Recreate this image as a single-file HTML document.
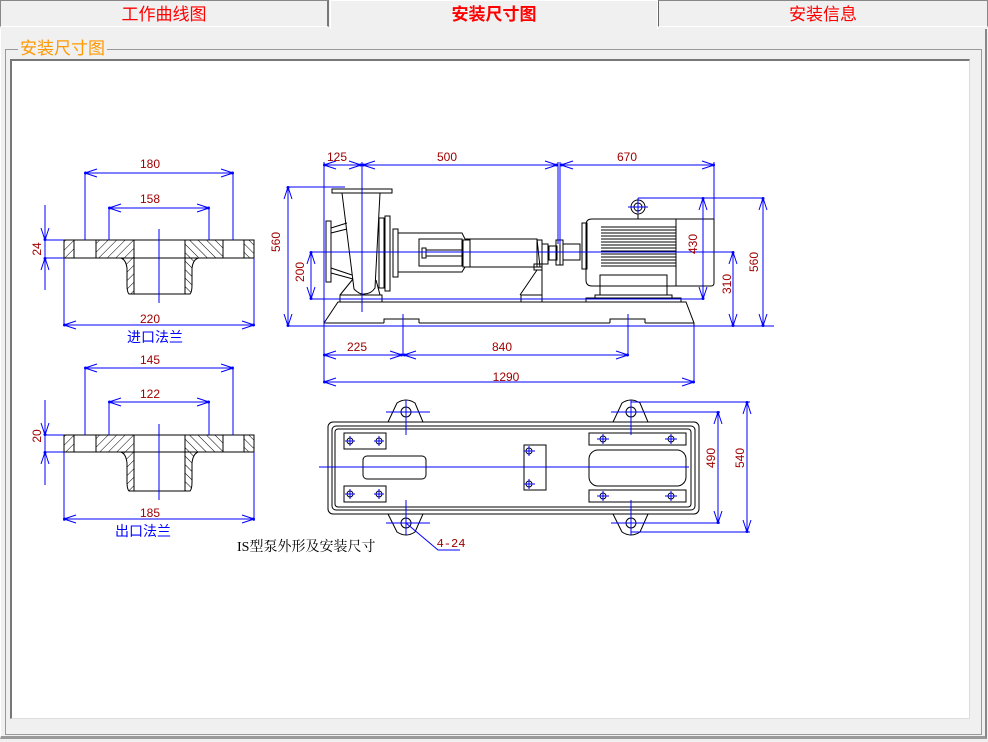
<!DOCTYPE html>
<html><head><meta charset="utf-8"><style>
body{margin:0;width:988px;height:742px;background:#f0f0f0;overflow:hidden;font-family:"Liberation Sans","Noto Sans CJK SC",sans-serif;position:relative}
.tab{position:absolute;top:0;height:27px;text-align:center;font-size:17px;line-height:28px;color:#f00;border:1px solid #888;border-bottom:none;box-sizing:border-box;background:#f0f0f0}
</style></head><body>
<div class="tab" style="left:0;width:329px;border-right:2px solid #777;border-bottom:1px solid #fff">工作曲线图</div>
<div class="tab" style="left:330px;width:328px;height:29px;font-weight:bold;border-color:#fff">安装尺寸图</div>
<div class="tab" style="left:658px;width:330px;border-left:1px solid #666;border-bottom:1px solid #fff">安装信息</div>
<div style="position:absolute;left:0;top:29px;width:987px;height:710px;border-left:1px solid #fff;border-right:2px solid #888;border-bottom:3px solid #999;box-sizing:border-box"></div>
<div style="position:absolute;left:5px;top:49px;width:977px;height:686px;border:1px solid #999;box-sizing:border-box"></div>
<div style="position:absolute;left:18px;top:38px;background:#f0f0f0;color:#f90;font-size:17px;padding:0 2px;line-height:22px">安装尺寸图</div>
<div style="position:absolute;left:10px;top:59px;width:960px;height:660px;background:#fff;border-top:2px solid #777;border-left:2px solid #777;border-right:1px solid #ddd;border-bottom:1px solid #ddd;box-sizing:border-box"></div>
<svg width="988" height="742" style="position:absolute;left:0;top:0" font-family="Liberation Sans, sans-serif">
<defs>
<marker id="a" markerUnits="userSpaceOnUse" markerWidth="14" markerHeight="12" refX="13" refY="5" orient="auto-start-reverse" viewBox="0 0 14 10"><path d="M1,1 L13,5 L1,9" fill="none" stroke="#00f" stroke-width="1"/><circle cx="12.5" cy="5" r="1.5" fill="#00f"/></marker>
<pattern id="h" width="6" height="6" patternUnits="userSpaceOnUse" patternTransform="rotate(45)"><line x1="0" y1="0" x2="0" y2="6" stroke="#000" stroke-width="1"/></pattern>
<pattern id="h2" width="6" height="6" patternUnits="userSpaceOnUse" patternTransform="rotate(-45)"><line x1="0" y1="0" x2="0" y2="6" stroke="#000" stroke-width="1"/></pattern>
</defs>
<g>
<g fill="none" stroke="#000" stroke-width="1">
<rect x="64" y="240" width="190" height="18"/>
<line x1="74" y1="240" x2="74" y2="258"/><line x1="96" y1="240" x2="96" y2="258"/>
<line x1="223" y1="240" x2="223" y2="258"/><line x1="244" y1="240" x2="244" y2="258"/>
<path d="M64,258 L74,258 L74,240 L64,240Z" fill="url(#h)"/>
<path d="M244,258 L254,258 L254,240 L244,240Z" fill="url(#h2)"/>
<path d="M96,240 L134,240 L134,294 L129,294 Q127,292 127,285 L127,268 Q126,260 121,258 L96,258Z" fill="url(#h)"/>
<path d="M223,240 L185,240 L185,294 L190,294 Q192,292 192,285 L192,268 Q193,260 198,258 L223,258Z" fill="url(#h2)"/>
<line x1="134" y1="294" x2="185" y2="294"/>
</g>
<g stroke="#00f" fill="none">
<line x1="159" y1="229" x2="159" y2="303"/>
<line x1="85" y1="173" x2="85" y2="240"/><line x1="233" y1="173" x2="233" y2="240"/>
<line x1="85" y1="173" x2="233" y2="173" marker-start="url(#a)" marker-end="url(#a)"/>
<line x1="109" y1="208" x2="109" y2="240"/><line x1="209" y1="208" x2="209" y2="240"/>
<line x1="109" y1="208" x2="209" y2="208" marker-start="url(#a)" marker-end="url(#a)"/>
<line x1="64" y1="258" x2="64" y2="326"/><line x1="254" y1="258" x2="254" y2="326"/>
<line x1="64" y1="325" x2="254" y2="325" marker-start="url(#a)" marker-end="url(#a)"/>
<line x1="45" y1="240" x2="64" y2="240"/><line x1="45" y1="258" x2="64" y2="258"/>
<line x1="45" y1="205" x2="45" y2="290"/>
<line x1="45" y1="222" x2="45" y2="240" marker-end="url(#a)"/><line x1="45" y1="276" x2="45" y2="258" marker-end="url(#a)"/>
</g>
</g>
<g font-size="12" fill="#a00000" text-anchor="middle">
<text x="150" y="168">180</text><text x="150" y="203">158</text><text x="150" y="323">220</text>
<text transform="translate(41,249) rotate(-90)">24</text>
<text x="150" y="364">145</text><text x="150" y="398">122</text><text x="150" y="517">185</text>
<text transform="translate(41,436) rotate(-90)">20</text>
</g>
<g font-size="14" fill="#00f" text-anchor="middle" font-family="Liberation Sans, Noto Sans CJK SC, sans-serif">
<text x="155" y="342">进口法兰</text><text x="143" y="536">出口法兰</text>
</g>
<g transform="translate(0,195)">
<g fill="none" stroke="#000" stroke-width="1">
<rect x="64" y="240" width="190" height="17"/>
<line x1="74" y1="240" x2="74" y2="257"/><line x1="96" y1="240" x2="96" y2="257"/>
<line x1="223" y1="240" x2="223" y2="257"/><line x1="244" y1="240" x2="244" y2="257"/>
<path d="M64,257 L74,257 L74,240 L64,240Z" fill="url(#h)"/>
<path d="M244,257 L254,257 L254,240 L244,240Z" fill="url(#h2)"/>
<path d="M96,240 L134,240 L134,296 L129,296 Q127,294 127,287 L127,268 Q126,259 121,257 L96,257Z" fill="url(#h)"/>
<path d="M223,240 L185,240 L185,296 L190,296 Q192,294 192,287 L192,268 Q193,259 198,257 L223,257Z" fill="url(#h2)"/>
<line x1="134" y1="296" x2="185" y2="296"/>
</g>
<g stroke="#00f" fill="none">
<line x1="159" y1="229" x2="159" y2="305"/>
<line x1="85" y1="173" x2="85" y2="240"/><line x1="233" y1="173" x2="233" y2="240"/>
<line x1="85" y1="173" x2="233" y2="173" marker-start="url(#a)" marker-end="url(#a)"/>
<line x1="109" y1="207" x2="109" y2="240"/><line x1="209" y1="207" x2="209" y2="240"/>
<line x1="109" y1="207" x2="209" y2="207" marker-start="url(#a)" marker-end="url(#a)"/>
<line x1="64" y1="257" x2="64" y2="326"/><line x1="254" y1="257" x2="254" y2="326"/>
<line x1="64" y1="324" x2="254" y2="324" marker-start="url(#a)" marker-end="url(#a)"/>
<line x1="45" y1="240" x2="64" y2="240"/><line x1="45" y1="257" x2="64" y2="257"/>
<line x1="45" y1="205" x2="45" y2="290"/>
<line x1="45" y1="222" x2="45" y2="240" marker-end="url(#a)"/><line x1="45" y1="275" x2="45" y2="257" marker-end="url(#a)"/>
</g>
</g>

<g fill="none" stroke="#000" stroke-width="1">
<path d="M324,326 L324,323 L338,302 L686,302 L694,323 L694,326Z"/>
<line x1="324" y1="323" x2="384" y2="323"/><path d="M384,323 L384,319 L419,319 L419,323"/>
<line x1="419" y1="323" x2="610" y2="323"/><path d="M610,323 L610,319 L645,319 L645,323"/>
<line x1="645" y1="323" x2="694" y2="323"/>
<rect x="332" y="189" width="60" height="4"/>
<path d="M342,193 L354,289 Q360,295 364,294 Q371,294 375,288 L380,193"/>
<rect x="326" y="221" width="5" height="61"/>
<path d="M331,228 L347,223 M331,233 L347,229 M331,268 L352,275 M331,273 L353,279 M353,279 L340,295 M376,280 L380,295"/>
<rect x="340" y="295" width="42" height="7"/>
<rect x="379" y="218" width="5" height="70"/><rect x="385" y="216" width="5" height="75"/>
<rect x="393" y="229" width="5" height="48"/>
<path d="M398,233 L462,233 L465,239 L537,239 L540,267 L465,267 L462,272 L398,272"/>
<rect x="419" y="239" width="43" height="27"/><rect x="422" y="248" width="4" height="10"/>
<line x1="426" y1="250" x2="462" y2="250"/><line x1="426" y1="256" x2="462" y2="256"/>
<rect x="463" y="240" width="7" height="27"/><rect x="537" y="240" width="5" height="27"/>
<rect x="534" y="264" width="8" height="6"/>
<path d="M537,270 L520,295 M542,270 L542,295"/>
<rect x="521" y="295" width="21" height="7"/>
<rect x="542" y="244" width="6" height="20"/><rect x="549" y="246" width="8" height="14"/>
<rect x="556" y="240" width="4" height="25"/><rect x="560" y="240" width="3" height="25"/>
<rect x="563" y="244" width="17" height="16"/>
<rect x="582" y="223" width="5" height="46"/>
<path d="M592,219 L714,219 L714,283 Q714,286 711,286 L592,286 Q586,286 586,280 L586,225 Q586,219 592,219Z"/>
<line x1="676" y1="219" x2="676" y2="286"/>
<g stroke-width="0.9"><line x1="601" y1="227" x2="676" y2="227"/><line x1="601" y1="230" x2="676" y2="230"/><line x1="601" y1="233" x2="676" y2="233"/><line x1="601" y1="236" x2="676" y2="236"/><line x1="601" y1="239" x2="676" y2="239"/><line x1="601" y1="242" x2="676" y2="242"/><line x1="601" y1="245" x2="676" y2="245"/><line x1="601" y1="248" x2="676" y2="248"/><line x1="601" y1="251" x2="676" y2="251"/><line x1="601" y1="254" x2="676" y2="254"/><line x1="601" y1="257" x2="676" y2="257"/><line x1="601" y1="260" x2="676" y2="260"/><line x1="601" y1="263" x2="676" y2="263"/><line x1="601" y1="266" x2="676" y2="266"/></g>
<rect x="600" y="275" width="67" height="20"/><rect x="595" y="295" width="77" height="4"/><rect x="586" y="298" width="95" height="4"/>
<circle cx="638" cy="207" r="7"/><circle cx="638" cy="207" r="4"/><line x1="638" y1="214" x2="638" y2="219"/>
</g>
<g stroke="#00f" fill="none">
<line x1="324" y1="162" x2="324" y2="382"/><line x1="362" y1="162" x2="362" y2="312"/>
<line x1="558" y1="162" x2="558" y2="244"/><line x1="560" y1="162" x2="560" y2="244"/><line x1="714" y1="162" x2="714" y2="219"/>
<line x1="324" y1="165" x2="361" y2="165" marker-start="url(#a)" marker-end="url(#a)"/>
<line x1="363" y1="165" x2="557" y2="165" marker-start="url(#a)" marker-end="url(#a)"/>
<line x1="561" y1="165" x2="714" y2="165" marker-start="url(#a)" marker-end="url(#a)"/>
<line x1="288" y1="187" x2="345" y2="187"/><line x1="288" y1="326" x2="774" y2="326"/>
<line x1="288" y1="187" x2="288" y2="326" marker-start="url(#a)" marker-end="url(#a)"/>
<line x1="311" y1="252" x2="733" y2="252"/><line x1="311" y1="299" x2="703" y2="299"/>
<line x1="311" y1="252" x2="311" y2="299" marker-start="url(#a)" marker-end="url(#a)"/>
<line x1="638" y1="198" x2="763" y2="198"/><line x1="638" y1="198" x2="638" y2="213"/><line x1="628" y1="207" x2="648" y2="207"/>
<line x1="703" y1="198" x2="703" y2="299" marker-start="url(#a)" marker-end="url(#a)"/>
<line x1="733" y1="252" x2="733" y2="326" marker-start="url(#a)" marker-end="url(#a)"/>
<line x1="763" y1="198" x2="763" y2="326" marker-start="url(#a)" marker-end="url(#a)"/>
<line x1="403" y1="314" x2="403" y2="355"/><line x1="628" y1="314" x2="628" y2="355"/><line x1="694" y1="326" x2="694" y2="382"/>
<line x1="324" y1="355" x2="402" y2="355" marker-start="url(#a)" marker-end="url(#a)"/>
<line x1="404" y1="355" x2="628" y2="355" marker-start="url(#a)" marker-end="url(#a)"/>
<line x1="324" y1="382" x2="694" y2="382" marker-start="url(#a)" marker-end="url(#a)"/>
</g>
<g font-size="12" fill="#a00000" text-anchor="middle">
<text x="337" y="161">125</text><text x="447" y="161">500</text><text x="627" y="161">670</text>
<text transform="translate(280,242) rotate(-90)">560</text>
<text transform="translate(304,272) rotate(-90)">200</text>
<text transform="translate(697,244) rotate(-90)">430</text>
<text transform="translate(731,284) rotate(-90)">310</text>
<text transform="translate(758,262) rotate(-90)">560</text>
<text x="357" y="351">225</text><text x="502" y="351">840</text><text x="506" y="381">1290</text>
<text transform="translate(715,458) rotate(-90)">490</text>
<text transform="translate(744,458) rotate(-90)">540</text>
<text x="451" y="547" font-family="Liberation Mono, monospace">4-24</text>
</g>

<g fill="none" stroke="#000" stroke-width="1">
<path d="M397,403 Q406,397 415,403 L423,422 L388,422Z" fill="#fff"/>
<path d="M397,532 Q406,538 415,532 L423,514 L388,514Z" fill="#fff"/>
<path d="M622,403 Q631,397 640,403 L648,422 L613,422Z" fill="#fff"/>
<path d="M622,532 Q631,538 640,532 L648,514 L613,514Z" fill="#fff"/>
<rect x="328" y="422" width="371" height="92" rx="5" fill="#fff"/>
<rect x="332" y="426" width="363" height="84" rx="4"/>
<rect x="335" y="429" width="356" height="78" rx="3"/>
<circle cx="406" cy="412" r="5"/><circle cx="406" cy="523" r="5"/><circle cx="631" cy="412" r="5"/><circle cx="631" cy="523" r="5"/>
<rect x="344" y="433" width="42" height="16"/><rect x="344" y="486" width="42" height="16"/>
<rect x="363" y="456" width="63" height="23" rx="4"/>
<rect x="524" y="445" width="22" height="45"/>
<rect x="589" y="433" width="97" height="12"/><rect x="589" y="490" width="97" height="12"/>
<rect x="589" y="450" width="97" height="36" rx="9"/>
<g stroke-width="0.9"><circle cx="350" cy="441" r="3"/><circle cx="379" cy="441" r="3"/><circle cx="350" cy="494" r="3"/><circle cx="379" cy="494" r="3"/><circle cx="529" cy="451" r="3"/><circle cx="529" cy="484" r="3"/><circle cx="603" cy="439" r="3"/><circle cx="671" cy="439" r="3"/><circle cx="603" cy="496" r="3"/><circle cx="671" cy="496" r="3"/></g>
</g>
<g stroke="#00f" fill="none">
<line x1="319" y1="467" x2="689" y2="467"/>
<line x1="406" y1="400" x2="406" y2="435"/><line x1="386" y1="412" x2="430" y2="412"/>
<line x1="406" y1="500" x2="406" y2="535"/><line x1="386" y1="523" x2="430" y2="523"/>
<line x1="631" y1="400" x2="631" y2="435"/>
<line x1="631" y1="500" x2="631" y2="535"/><line x1="611" y1="523" x2="720" y2="523"/>
<line x1="611" y1="412" x2="720" y2="412"/><line x1="631" y1="402" x2="750" y2="402"/><line x1="631" y1="532" x2="750" y2="532"/>
<line x1="718" y1="412" x2="718" y2="523" marker-start="url(#a)" marker-end="url(#a)"/>
<line x1="747" y1="402" x2="747" y2="532" marker-start="url(#a)" marker-end="url(#a)"/>
<path d="M345,441h10M350,436v10M374,441h10M379,436v10M345,494h10M350,489v10M374,494h10M379,489v10M524,451h11M529,446v10M524,484h11M529,479v10M597,439h12M603,434v10M665,439h12M671,434v10M597,496h12M603,491v10M665,496h12M671,491v10"/>
<path d="M406,523 L438,550 L460,550"/>
</g>
<text x="237" y="551" font-size="14" fill="#000" font-family="Liberation Serif, Noto Serif CJK SC, serif">IS型泵外形及安装尺寸</text>
</svg>
</body></html>
